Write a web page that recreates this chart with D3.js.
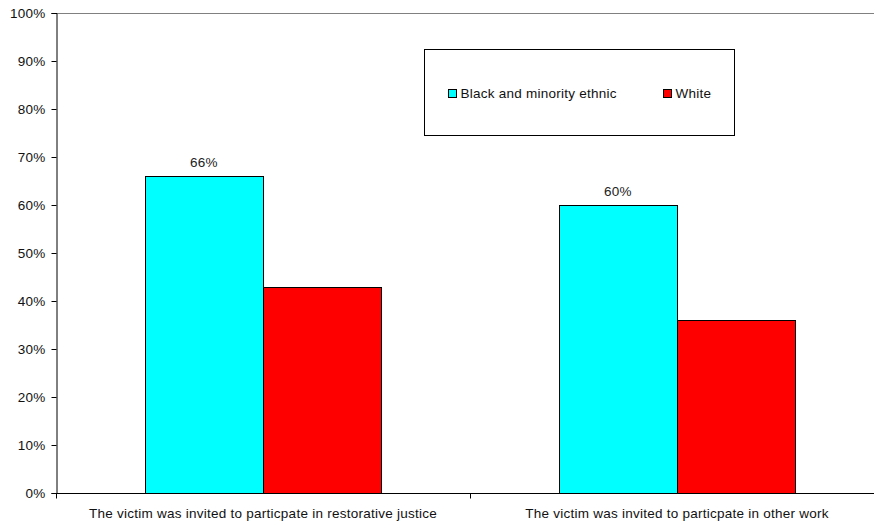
<!DOCTYPE html>
<html>
<head>
<meta charset="utf-8">
<script src="https://cdn.jsdelivr.net/npm/d3@7/dist/d3.min.js"></script>
<style>
  html, body { margin: 0; padding: 0; background: #fff; }
  svg { display: block; font-family: "Liberation Sans", Arial, sans-serif; }
  text { letter-spacing: 0.25px; }
</style>
</head>
<body>
<svg id="chart" width="874" height="522"></svg>
<script>
const categories = [
  "The victim was invited to particpate in restorative justice",
  "The victim was invited to particpate in other work"
];
const seriesNames = ["Black and minority ethnic", "White"];
const bme = [66, 60];
const white = [43, 36];
const valueLabels = ["66%", "60%"];
const yTicks = [0, 10, 20, 30, 40, 50, 60, 70, 80, 90, 100];
const colors = ["#00FFFF", "#FF0000"];

(function () {
const svg = d3.select("#chart");
const pLeft = 56, pRight = 884, pTop = 13, pBottom = 493;
const fs = 13.5;

const x0 = d3.scaleBand().domain(categories).range([pLeft, pRight]).paddingInner(0).paddingOuter(0);
const x1 = d3.scaleBand().domain(seriesNames).range([0, x0.bandwidth()]).paddingInner(0).paddingOuter(0.75);
const y = d3.scaleLinear().domain([0, 100]).range([pBottom, pTop]);

svg.append("line")
  .attr("x1", pLeft).attr("x2", pRight)
  .attr("y1", pTop + 0.5).attr("y2", pTop + 0.5)
  .attr("stroke", "#808080").attr("stroke-width", 1);

const data = categories.map((c, i) => ({ cat: c, vals: [bme[i], white[i]] }));
const g = svg.append("g");
data.forEach((d, i) => {
  d.vals.forEach((v, j) => {
    const xs = x0(d.cat) + x1(seriesNames[j]);
    const xe = xs + x1.bandwidth();
    g.append("rect")
      .attr("x", Math.round(xs) + 0.5)
      .attr("y", Math.round(y(v)) + 0.5)
      .attr("width", Math.round(xe) - Math.round(xs))
      .attr("height", Math.round(y(0)) - Math.round(y(v)))
      .attr("fill", colors[j])
      .attr("stroke", "#000").attr("stroke-width", 1);
  });
  const xs = x0(d.cat) + x1(seriesNames[0]) + x1.bandwidth() / 2;
  svg.append("text")
    .attr("x", xs).attr("y", y(bme[i]) - 9)
    .attr("text-anchor", "middle")
    .attr("font-size", fs).attr("fill", "#222")
    .text(valueLabels[i]);
});

const yAxis = d3.axisLeft(y).tickValues(yTicks).tickFormat(d => d + "%").tickSize(5).tickPadding(6);
const ya = svg.append("g").attr("transform", `translate(${pLeft + 0.5},0)`).call(yAxis);
ya.select(".domain").attr("stroke", "#000");
ya.selectAll(".tick line").attr("stroke", "#000");
ya.selectAll(".tick text").attr("font-size", fs).attr("fill", "#111")
  .attr("font-family", "'Liberation Sans', Arial, sans-serif");

const xEdge = d3.scaleLinear().domain([0, categories.length]).range([pLeft, pRight]);
const xa = svg.append("g").attr("transform", `translate(0,${pBottom + 0.5})`);
xa.append("line").attr("x1", pLeft).attr("x2", pRight).attr("y1", 0).attr("y2", 0).attr("stroke", "#000");
d3.range(categories.length + 1).forEach(k => {
  xa.append("line").attr("x1", Math.round(xEdge(k)) + 0.5).attr("x2", Math.round(xEdge(k)) + 0.5)
    .attr("y1", 0).attr("y2", 5).attr("stroke", "#000");
});
categories.forEach(c => {
  svg.append("text")
    .attr("x", x0(c) + x0.bandwidth() / 2).attr("y", 518)
    .attr("text-anchor", "middle").attr("font-size", fs).attr("fill", "#111")
    .text(c);
});

const lg = svg.append("g");
lg.append("rect").attr("x", 424.5).attr("y", 49.5).attr("width", 310).attr("height", 86)
  .attr("fill", "#fff").attr("stroke", "#000");
const legendX = [448.5, 663.5];
seriesNames.forEach((n, j) => {
  lg.append("rect").attr("x", legendX[j]).attr("y", 89.5).attr("width", 8).attr("height", 8)
    .attr("fill", colors[j]).attr("stroke", "#000");
  lg.append("text").attr("x", legendX[j] + 12).attr("y", 98)
    .attr("font-size", fs).attr("fill", "#111").text(n);
});
})();
</script>
</body>
</html>
